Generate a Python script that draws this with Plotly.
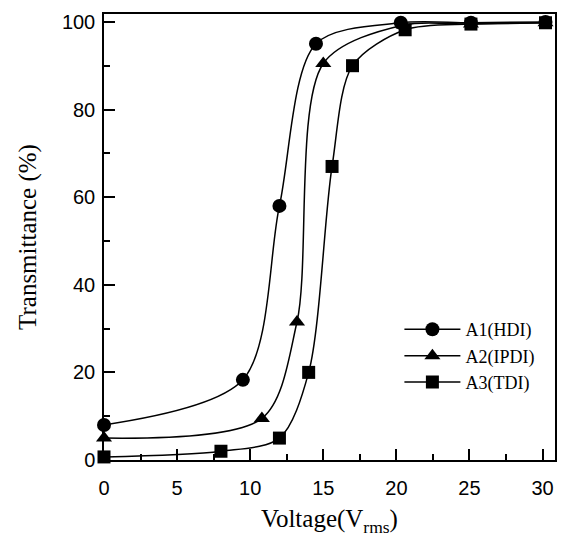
import plotly.graph_objects as go

# Transmittance vs applied voltage for three diisocyanate samples
voltage_a1 = [0, 9.5, 12.0, 14.5, 20.3, 25.1, 30.2]
trans_a1 = [8.0, 18.3, 58.0, 95.0, 99.8, 99.8, 100.0]

voltage_a2 = [0, 10.8, 13.2, 15.0, 20.5, 25.1, 30.2]
trans_a2 = [5.0, 9.5, 31.5, 90.5, 99.3, 99.5, 99.8]

voltage_a3 = [0, 8.0, 12.0, 14.0, 15.6, 17.0, 20.6, 25.1, 30.2]
trans_a3 = [0.7, 2.0, 5.0, 20.0, 67.0, 90.0, 98.2, 99.5, 99.8]

names = ["A1(HDI)", "A2(IPDI)", "A3(TDI)"]
symbols = ["circle", "triangle-up", "square"]

fig = go.Figure()
for xs, ys, name, sym in zip(
    [voltage_a1, voltage_a2, voltage_a3],
    [trans_a1, trans_a2, trans_a3],
    names,
    symbols,
):
    fig.add_trace(
        go.Scatter(
            x=xs,
            y=ys,
            name=name,
            mode="lines+markers",
            line=dict(color="black", width=1.5, shape="spline", smoothing=0.85),
            marker=dict(symbol=sym, color="black", size=14 if sym != "square" else 13),
            cliponaxis=False,
        )
    )

axis_common = dict(
    showline=True,
    linecolor="black",
    linewidth=1.5,
    mirror=True,
    showgrid=False,
    zeroline=False,
    ticks="inside",
    ticklen=11,
    tickwidth=1.5,
    tickcolor="black",
    tickfont=dict(family="Liberation Sans, Arial", size=20, color="black"),
)

title_font = dict(family="Liberation Serif, Times New Roman", size=25, color="black")

fig.update_xaxes(
    range=[0, 30.85],
    tickvals=[0, 5, 10, 15, 20, 25, 30],
    ticklabelstandoff=9,
    minor=dict(ticks="inside", ticklen=6, tickwidth=1.5, tickcolor="black", dtick=2.5, tick0=0),
    title=dict(text="Voltage(V<sub>rms</sub>)", font=title_font, standoff=12),
    **axis_common,
)
fig.update_yaxes(
    range=[0, 101.8],
    tickvals=[0, 20, 40, 60, 80, 100],
    ticklabelstandoff=3,
    minor=dict(ticks="inside", ticklen=6, tickwidth=1.5, tickcolor="black", dtick=10, tick0=0),
    title=dict(text="Transmittance (%)", font=title_font, standoff=18),
    **axis_common,
)

fig.update_layout(
    width=564,
    height=546,
    margin=dict(l=104, r=7, t=14, b=86),
    paper_bgcolor="white",
    plot_bgcolor="white",
    showlegend=True,
    legend=dict(
        x=0.655,
        y=0.334,
        xanchor="left",
        yanchor="top",
        bgcolor="rgba(0,0,0,0)",
        font=dict(family="Liberation Serif, Times New Roman", size=18, color="black"),
        tracegroupgap=0,
        itemwidth=56,
    ),
)

fig.write_html("out.html")
